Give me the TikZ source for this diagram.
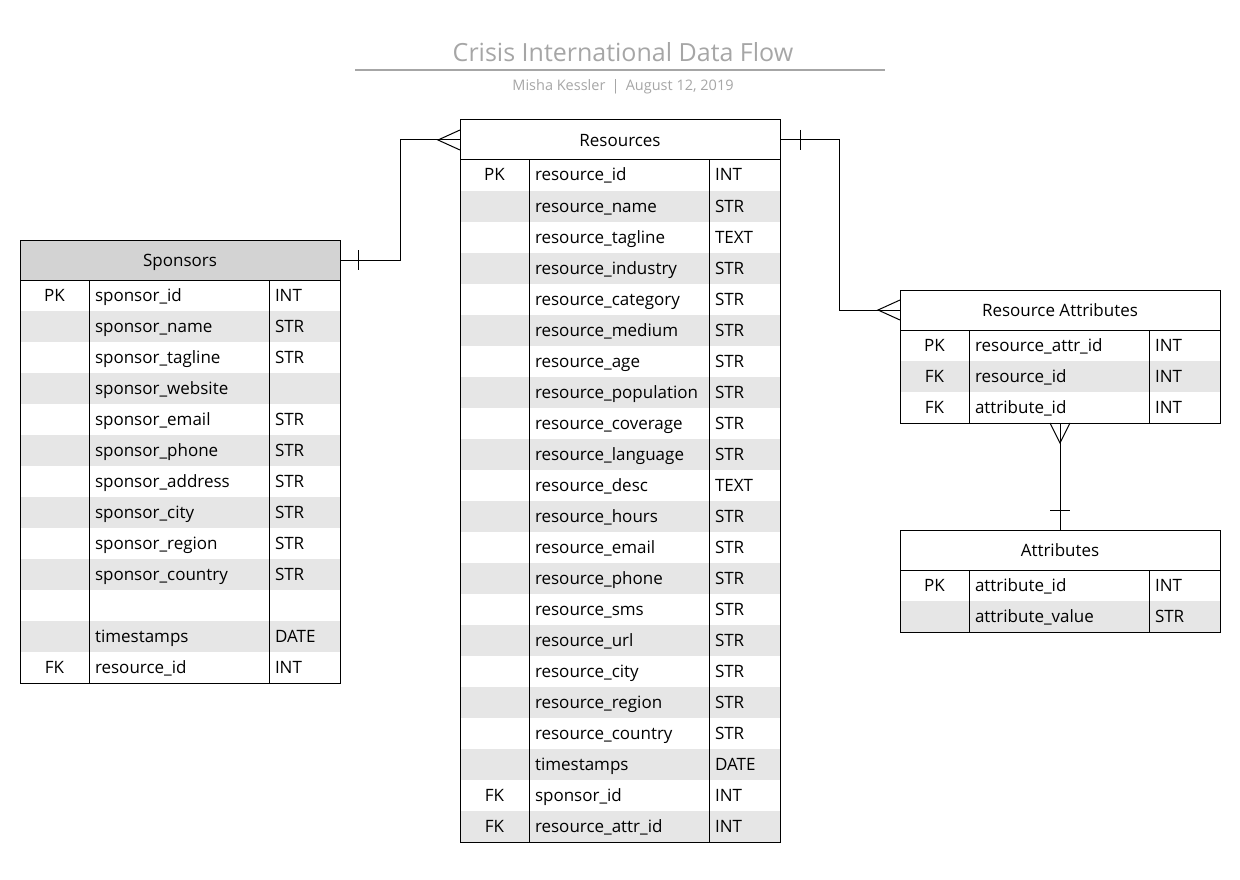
\documentclass[tikz,border=0pt]{standalone}
\usepackage{fontspec}
\setmainfont{Open Sans}
\usetikzlibrary{positioning,calc}

\definecolor{rowgray}{HTML}{E6E6E6}
\definecolor{headgray}{HTML}{D3D3D3}
\definecolor{titlegray}{HTML}{A6A6A6}

\begin{document}
\begin{tikzpicture}[x=1pt,y=-1pt,line width=1pt,
    font=\fontsize{17}{20}\selectfont,every node/.style={inner sep=0pt,outer sep=0pt}]
  \tikzstyle{header}=[draw, minimum width=320pt, minimum height=40pt, text depth=0pt]
  \tikzstyle{body}=[minimum width=320pt]
  \tikzstyle{keytxt}=[anchor=base]
  \tikzstyle{coltxt}=[anchor=base west]

  \useasboundingbox (0,0) rectangle (1240,880);

  % title
  \node[text=titlegray, font=\fontsize{25}{30}\selectfont] (title) at (623,52) {Crisis International Data Flow};
  \draw[titlegray, line width=1.6pt] (355,70) -- (885,70);
  \node[text=titlegray, font=\fontsize{14.5}{17}\selectfont] (byline) at (623,87) {Misha Kessler \,|\, August 12, 2019};

  % Resources
  \node[header] (resH) at (620,140) {Resources};
  \node[body, minimum height=682pt, below=0pt of resH] (resB) {};
  \foreach \pk/\fname/\ftype [count=\i] in {PK/resource\_id/INT, /resource\_name/STR,
      /resource\_tagline/TEXT, /resource\_industry/STR, /resource\_category/STR,
      /resource\_medium/STR, /resource\_age/STR, /resource\_population/STR,
      /resource\_coverage/STR, /resource\_language/STR, /resource\_desc/TEXT,
      /resource\_hours/STR, /resource\_email/STR, /resource\_phone/STR,
      /resource\_sms/STR, /resource\_url/STR, /resource\_city/STR,
      /resource\_region/STR, /resource\_country/STR, /timestamps/DATE,
      FK/sponsor\_id/INT, FK/resource\_attr\_id/INT} {
    \ifodd\i\else
      \fill[rowgray] ($(resB.north west)+(0,31*\i-31)$) rectangle ($(resB.north east)+(0,31*\i)$);
    \fi
    \node[keytxt] (res-k-\i) at ($(resB.north west)+(34.5,31*\i-10)$) {\pk};
    \node[coltxt] (res-n-\i) at ($(resB.north west)+(75,31*\i-10)$) {\fname};
    \node[coltxt] (res-t-\i) at ($(resB.north west)+(255,31*\i-10)$) {\ftype};
  }
  \draw (resB.north west) rectangle (resB.south east);
  \draw ($(resB.north west)+(69,0)$) -- ($(resB.south west)+(69,0)$);
  \draw ($(resB.north west)+(249,0)$) -- ($(resB.south west)+(249,0)$);

  % Sponsors
  \node[header, fill=headgray] (sponH) at (180,260) {Sponsors};
  \node[body, minimum height=403pt, below=0pt of sponH] (sponB) {};
  \foreach \pk/\fname/\ftype [count=\i] in {PK/sponsor\_id/INT, /sponsor\_name/STR,
      /sponsor\_tagline/STR, /sponsor\_website/, /sponsor\_email/STR,
      /sponsor\_phone/STR, /sponsor\_address/STR, /sponsor\_city/STR,
      /sponsor\_region/STR, /sponsor\_country/STR, //, /timestamps/DATE,
      FK/resource\_id/INT} {
    \ifodd\i\else
      \fill[rowgray] ($(sponB.north west)+(0,31*\i-31)$) rectangle ($(sponB.north east)+(0,31*\i)$);
    \fi
    \node[keytxt] (spon-k-\i) at ($(sponB.north west)+(34.5,31*\i-10)$) {\pk};
    \node[coltxt] (spon-n-\i) at ($(sponB.north west)+(75,31*\i-10)$) {\fname};
    \node[coltxt] (spon-t-\i) at ($(sponB.north west)+(255,31*\i-10)$) {\ftype};
  }
  \draw (sponB.north west) rectangle (sponB.south east);
  \draw ($(sponB.north west)+(69,0)$) -- ($(sponB.south west)+(69,0)$);
  \draw ($(sponB.north west)+(249,0)$) -- ($(sponB.south west)+(249,0)$);

  % Resource Attributes
  \node[header] (raH) at (1060,310) {Resource Attributes};
  \node[body, minimum height=93pt, below=0pt of raH] (raB) {};
  \foreach \pk/\fname/\ftype [count=\i] in {PK/resource\_attr\_id/INT,
      FK/resource\_id/INT, FK/attribute\_id/INT} {
    \ifodd\i\else
      \fill[rowgray] ($(raB.north west)+(0,31*\i-31)$) rectangle ($(raB.north east)+(0,31*\i)$);
    \fi
    \node[keytxt] (ra-k-\i) at ($(raB.north west)+(34.5,31*\i-10)$) {\pk};
    \node[coltxt] (ra-n-\i) at ($(raB.north west)+(75,31*\i-10)$) {\fname};
    \node[coltxt] (ra-t-\i) at ($(raB.north west)+(255,31*\i-10)$) {\ftype};
  }
  \draw (raB.north west) rectangle (raB.south east);
  \draw ($(raB.north west)+(69,0)$) -- ($(raB.south west)+(69,0)$);
  \draw ($(raB.north west)+(249,0)$) -- ($(raB.south west)+(249,0)$);

  % Attributes
  \node[header] (attH) at (1060,550) {Attributes};
  \node[body, minimum height=62pt, below=0pt of attH] (attB) {};
  \foreach \pk/\fname/\ftype [count=\i] in {PK/attribute\_id/INT,
      /attribute\_value/STR} {
    \ifodd\i\else
      \fill[rowgray] ($(attB.north west)+(0,31*\i-31)$) rectangle ($(attB.north east)+(0,31*\i)$);
    \fi
    \node[keytxt] (att-k-\i) at ($(attB.north west)+(34.5,31*\i-10)$) {\pk};
    \node[coltxt] (att-n-\i) at ($(attB.north west)+(75,31*\i-10)$) {\fname};
    \node[coltxt] (att-t-\i) at ($(attB.north west)+(255,31*\i-10)$) {\ftype};
  }
  \draw (attB.north west) rectangle (attB.south east);
  \draw ($(attB.north west)+(69,0)$) -- ($(attB.south west)+(69,0)$);
  \draw ($(attB.north west)+(249,0)$) -- ($(attB.south west)+(249,0)$);

  % relations
  \draw (sponH.east) -- ++(60,0) |- (resH.west);
  \draw ($(sponH.east)+(18,-10)$) -- ($(sponH.east)+(18,10)$);
  \draw ($(resH.west)+(0,-10)$) -- ($(resH.west)+(-22,0)$) -- ($(resH.west)+(0,10)$);

  \draw (resH.east) -- ++(59,0) |- (raH.west);
  \draw ($(resH.east)+(20,-10)$) -- ($(resH.east)+(20,10)$);
  \draw ($(raH.west)+(0,-10)$) -- ($(raH.west)+(-22,0)$) -- ($(raH.west)+(0,10)$);

  \draw (raB.south) -- (attH.north);
  \draw ($(raB.south)+(-10,0)$) -- ($(raB.south)+(0,20)$) -- ($(raB.south)+(10,0)$);
  \draw ($(attH.north)+(-10,-20)$) -- ($(attH.north)+(10,-20)$);
\end{tikzpicture}
\end{document}
